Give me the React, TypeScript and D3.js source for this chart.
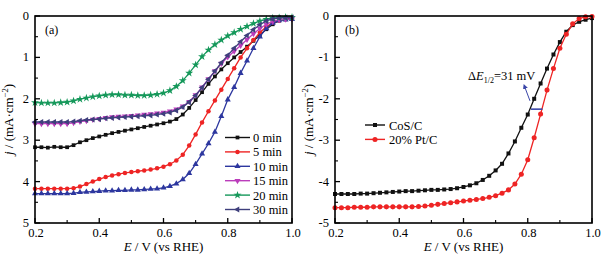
import React from "react";
import * as d3 from "d3";

const potentials = [0.20,0.22,0.24,0.26,0.28,0.30,0.32,0.34,0.36,0.38,0.40,0.42,0.44,0.46,0.48,0.50,0.52,0.54,0.56,0.58,0.60,0.62,0.64,0.66,0.68,0.70,0.72,0.74,0.76,0.78,0.80,0.82,0.84,0.86,0.88,0.90,0.92,0.94,0.96,0.98,1.00];

const min0 = [3.17,3.17,3.18,3.16,3.17,3.17,3.12,3.05,3.00,2.95,2.91,2.87,2.83,2.80,2.77,2.74,2.71,2.68,2.65,2.62,2.59,2.55,2.49,2.38,2.22,2.03,1.84,1.64,1.46,1.29,1.14,1.00,0.87,0.74,0.60,0.46,0.32,0.20,0.11,0.07,0.05];
const min5 = [4.17,4.17,4.17,4.17,4.17,4.17,4.16,4.12,4.06,4.00,3.94,3.89,3.85,3.82,3.79,3.77,3.75,3.73,3.71,3.68,3.64,3.58,3.49,3.35,3.13,2.86,2.57,2.30,2.04,1.78,1.52,1.26,1.00,0.78,0.58,0.40,0.26,0.16,0.11,0.08,0.07];
const min10 = [4.29,4.29,4.29,4.29,4.29,4.29,4.28,4.26,4.25,4.24,4.23,4.22,4.22,4.21,4.21,4.20,4.20,4.19,4.18,4.17,4.15,4.11,4.05,3.95,3.80,3.58,3.33,3.08,2.80,2.42,2.02,1.72,1.38,1.08,0.78,0.50,0.30,0.17,0.11,0.09,0.08];
const min15 = [2.60,2.60,2.60,2.60,2.60,2.60,2.58,2.55,2.53,2.50,2.48,2.46,2.44,2.43,2.42,2.41,2.40,2.38,2.37,2.35,2.33,2.30,2.25,2.18,2.07,1.91,1.72,1.52,1.33,1.15,0.99,0.85,0.71,0.57,0.43,0.30,0.20,0.13,0.09,0.08,0.07];
const min20 = [2.09,2.10,2.10,2.10,2.09,2.08,2.05,2.01,1.98,1.95,1.93,1.91,1.90,1.90,1.91,1.91,1.92,1.92,1.91,1.89,1.86,1.80,1.70,1.56,1.38,1.18,0.98,0.82,0.69,0.58,0.48,0.40,0.32,0.25,0.18,0.12,0.08,0.05,0.04,0.03,0.03];
const min30 = [2.56,2.56,2.56,2.56,2.56,2.56,2.55,2.53,2.51,2.50,2.49,2.47,2.46,2.45,2.44,2.43,2.42,2.41,2.40,2.38,2.36,2.33,2.28,2.20,2.08,1.92,1.73,1.53,1.33,1.13,0.95,0.78,0.62,0.47,0.33,0.21,0.12,0.07,0.05,0.04,0.04];

const cosC = [-4.30,-4.30,-4.30,-4.30,-4.29,-4.29,-4.28,-4.27,-4.26,-4.25,-4.24,-4.23,-4.23,-4.22,-4.21,-4.20,-4.20,-4.19,-4.18,-4.16,-4.13,-4.09,-4.04,-3.96,-3.86,-3.73,-3.57,-3.32,-3.03,-2.70,-2.38,-2.00,-1.63,-1.27,-0.93,-0.63,-0.38,-0.22,-0.14,-0.09,-0.05];
const ptC = [-4.63,-4.63,-4.63,-4.62,-4.62,-4.62,-4.61,-4.61,-4.61,-4.61,-4.61,-4.61,-4.61,-4.60,-4.59,-4.57,-4.55,-4.53,-4.51,-4.49,-4.47,-4.45,-4.43,-4.41,-4.38,-4.34,-4.28,-4.20,-4.06,-3.82,-3.47,-2.94,-2.37,-1.79,-1.27,-0.78,-0.44,-0.19,-0.06,-0.02,-0.01];

const seriesA = ["0 min","5 min","10 min","15 min","20 min","30 min"];
const valuesA = [min0, min5, min10, min15, min20, min30];
const seriesB = ["CoS/C","20% Pt/C"];
const valuesB = [cosC, ptC];

const xTicks = [0.2,0.4,0.6,0.8,1.0];
const xMinor = [0.3,0.5,0.7,0.9];
const yTicksA = [0,1,2,3,4,5];
const yMinorA = [0.5,1.5,2.5,3.5,4.5];
const yTicksB = [0,-1,-2,-3,-4,-5];
const yMinorB = [-0.5,-1.5,-2.5,-3.5,-4.5];

const colorsA = ["#111111","#ee2424","#2d379f","#bb3dbb","#15985a","#3e3f7c"];
const symbolsA = [d3.symbolSquare, d3.symbolCircle, d3.symbolTriangle, d3.symbolTriangle, d3.symbolStar, d3.symbolTriangle];
const rotA = [0,0,0,180,0,-90];
const sizesA = [14,16,16,16,20,16];
const colorsB = ["#111111","#ee2424"];
const symbolsB = [d3.symbolSquare, d3.symbolCircle];

const FONT = "'Liberation Serif','Times New Roman',serif";

function Panel({ x0, x1, yDomain, yTicks, yMinor, values, colors, symbols, rots, sizes, every, label }: any) {
  const top = 16, bottom = 223;
  const x = d3.scaleLinear([0.2, 1.0], [x0, x1]);
  const y = d3.scaleLinear(yDomain, [top, bottom]);
  const line = d3.line<number>().x((_, i) => x(potentials[i])).y((d) => y(d));
  return (
    <g>
      {values.map((vals: number[], si: number) => (
        <g key={si}>
          <path d={line(vals) || ""} fill="none" stroke={colors[si]} strokeWidth={1.3} />
          {vals.map((v, i) => (i % every === 0 ? (
            <path key={i}
              d={d3.symbol(symbols[si], sizes ? sizes[si] : 16)() || ""}
              transform={`translate(${x(potentials[i])},${y(v)}) rotate(${rots ? rots[si] : 0})`}
              fill={colors[si]} />
          ) : null))}
        </g>
      ))}
      <rect x={x0} y={top} width={x1 - x0} height={bottom - top} fill="none" stroke="#000" strokeWidth={1.6} />
      {xTicks.map((t) => (
        <g key={"xt" + t}>
          <line x1={x(t)} x2={x(t)} y1={bottom} y2={bottom - 5} stroke="#000" strokeWidth={1.3} />
          <text x={x(t) + 1} y={bottom + 14} textAnchor="middle" fontSize={12.5} fontFamily={FONT}>{t.toFixed(1)}</text>
        </g>
      ))}
      {xMinor.map((t) => (
        <line key={"xm" + t} x1={x(t)} x2={x(t)} y1={bottom} y2={bottom - 3} stroke="#000" strokeWidth={1.1} />
      ))}
      {yTicks.map((t: number) => (
        <g key={"yt" + t}>
          <line x1={x0} x2={x0 + 5} y1={y(t)} y2={y(t)} stroke="#000" strokeWidth={1.3} />
          <text x={x0 - 6} y={y(t) + 4} textAnchor="end" fontSize={12.5} fontFamily={FONT}>{String(t)}</text>
        </g>
      ))}
      {yMinor.map((t: number) => (
        <line key={"ym" + t} x1={x0} x2={x0 + 3} y1={y(t)} y2={y(t)} stroke="#000" strokeWidth={1.1} />
      ))}
      <text x={x0 + 10} y={34} fontSize={12} fontFamily={FONT}>{label}</text>
      <text x={(x0 + x1) / 2} y={251} textAnchor="middle" fontSize={13} fontFamily={FONT}>
        <tspan fontStyle="italic">E</tspan> / V (vs RHE)
      </text>
      <text transform={`translate(${x0 - 22},${(top + bottom) / 2}) rotate(-90)`} textAnchor="middle" fontSize={13} fontFamily={FONT}>
        <tspan fontStyle="italic">j</tspan> / (mA·cm<tspan dy={-5} fontSize={8.5}>−2</tspan><tspan dy={5}>)</tspan>
      </text>
    </g>
  );
}

export default function App() {
  const xb = d3.scaleLinear([0.2, 1.0], [335, 592]);
  const yb = d3.scaleLinear([0, -5], [16, 223]);
  const legA = { x: 225, y: 137.5, dy: 14.4 };
  const legB = { x: 365, y: 125, dy: 14.4 };
  return (
    <svg width={609} height={259} style={{ position: "absolute", left: 0, top: 0, background: "#fff" }}>
      <rect width={609} height={259} fill="#fff" />
      <Panel x0={35} x1={292} yDomain={[0, 5]} yTicks={yTicksA} yMinor={yMinorA} values={valuesA}
        colors={colorsA} symbols={symbolsA} rots={rotA} sizes={sizesA} every={1} label="(a)" />
      <Panel x0={335} x1={592} yDomain={[0, -5]} yTicks={yTicksB} yMinor={yMinorB} values={valuesB}
        colors={colorsB} symbols={symbolsB} rots={null} sizes={[16, 20]} every={1} label="(b)" />
      {seriesA.map((s, i) => (
        <g key={s} transform={`translate(${legA.x},${legA.y + i * legA.dy})`}>
          <line x1={0} x2={25} y1={0} y2={0} stroke={colorsA[i]} strokeWidth={1.4} />
          <path d={d3.symbol(symbolsA[i], sizesA[i])() || ""} transform={`translate(12.5,0) rotate(${rotA[i]})`} fill={colorsA[i]} />
          <text x={28} y={4.5} fontSize={12.5} fontFamily={FONT}>{s}</text>
        </g>
      ))}
      {seriesB.map((s, i) => (
        <g key={s} transform={`translate(${legB.x},${legB.y + i * legB.dy})`}>
          <line x1={0} x2={20} y1={0} y2={0} stroke={colorsB[i]} strokeWidth={1.4} />
          <path d={d3.symbol(symbolsB[i], i ? 20 : 16)() || ""} transform="translate(10,0)" fill={colorsB[i]} />
          <text x={24} y={4.5} fontSize={12.5} fontFamily={FONT}>{s}</text>
        </g>
      ))}
      <defs>
        <marker id="arr" viewBox="0 0 10 10" refX={5} refY={5} markerWidth={5} markerHeight={5} orient="auto">
          <path d="M0,0 L10,5 L0,10 z" fill="#3a46a8" />
        </marker>
      </defs>
      <line x1={xb(0.81)} x2={xb(0.846)} y1={yb(-2.25)} y2={yb(-2.25)} stroke="#3a46a8" strokeWidth={1.6} />
      <line x1={xb(0.807)} x2={xb(0.79)} y1={yb(-2.05)} y2={yb(-1.7)} stroke="#3a46a8" strokeWidth={1} markerEnd="url(#arr)" />
      <text x={468} y={80} fontSize={12.5} fontFamily={FONT}>
        Δ<tspan fontStyle="italic">E</tspan><tspan fontSize={8} dy={3}>1/2</tspan><tspan dy={-3}>=31 mV</tspan>
      </text>
    </svg>
  );
}
